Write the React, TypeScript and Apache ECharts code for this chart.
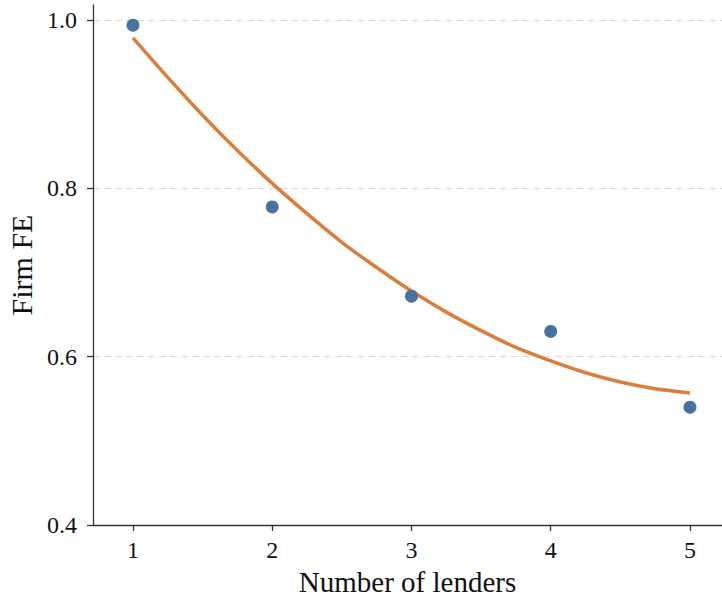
import React, { useEffect, useRef } from "react";
import * as echarts from "echarts";

const lenders = [1, 2, 3, 4, 5];
const firmFE = [0.994, 0.778, 0.672, 0.63, 0.54];
const fitX = [1, 1.25, 1.5, 1.75, 2, 2.25, 2.5, 2.75, 3, 3.25, 3.5, 3.75, 4, 4.25, 4.5, 4.75, 5];
const fitY = [0.979, 0.932, 0.887, 0.845, 0.806, 0.77, 0.736, 0.706, 0.678, 0.653, 0.631, 0.611, 0.595, 0.581, 0.57, 0.562, 0.557];
const xTicks = [1, 2, 3, 4, 5];
const yTicks = [0.4, 0.6, 0.8, 1.0];

const FONT = "'Liberation Serif', serif";

export default function App() {
  const ref = useRef<HTMLDivElement>(null);
  useEffect(() => {
    document.body.style.margin = "0";
    const chart = echarts.init(ref.current!, null, { renderer: "svg" });
    chart.setOption({
      animation: false,
      backgroundColor: "#ffffff",
      grid: { left: 93, right: 0, top: 5, bottom: 72, containLabel: false, outerBoundsMode: "none" },
      xAxis: {
        type: "value",
        min: 0.713,
        max: 5.23,
        name: "Number of lenders",
        nameLocation: "middle",
        nameGap: 33,
        nameTextStyle: { fontFamily: FONT, fontSize: 29, lineHeight: 30, color: "#111" },
        axisLine: { show: true, lineStyle: { color: "#333", width: 1.3 } },
        axisTick: { show: true, customValues: xTicks, length: 6, lineStyle: { color: "#333", width: 1.3 } },
        axisLabel: { customValues: xTicks, margin: 13, fontFamily: FONT, fontSize: 24, color: "#111", formatter: (v: number) => String(v) },
        splitLine: { show: false },
      },
      yAxis: {
        type: "value",
        min: 0.4,
        max: 1.018,
        name: "Firm FE",
        nameLocation: "middle",
        nameGap: 56,
        nameTextStyle: { fontFamily: FONT, fontSize: 30, color: "#111" },
        axisLine: { show: true, lineStyle: { color: "#333", width: 1.3 } },
        axisTick: { show: true, customValues: yTicks, length: 6, lineStyle: { color: "#333", width: 1.3 } },
        axisLabel: { customValues: yTicks, margin: 16, fontFamily: FONT, fontSize: 24, color: "#111", formatter: (v: number) => v.toFixed(1) },
        splitLine: { show: true, lineStyle: { color: "#d9d9d9", type: [7, 4], width: 1.2 } },
      },
      series: [
        {
          type: "line",
          data: fitX.map((x, i) => [x, fitY[i]]),
          smooth: 0.3,
          showSymbol: false,
          symbol: "none",
          lineStyle: { color: "#d97e3c", width: 3.5 },
          z: 2,
        },
        {
          type: "scatter",
          data: lenders.map((x, i) => [x, firmFE[i]]),
          symbolSize: 13,
          itemStyle: { color: "#47739c", opacity: 1 },
          z: 3,
        },
      ],
    });
    return () => chart.dispose();
  }, []);
  return <div ref={ref} style={{ position: "fixed", left: 0, top: 0, width: 722, height: 597 }} />;
}
